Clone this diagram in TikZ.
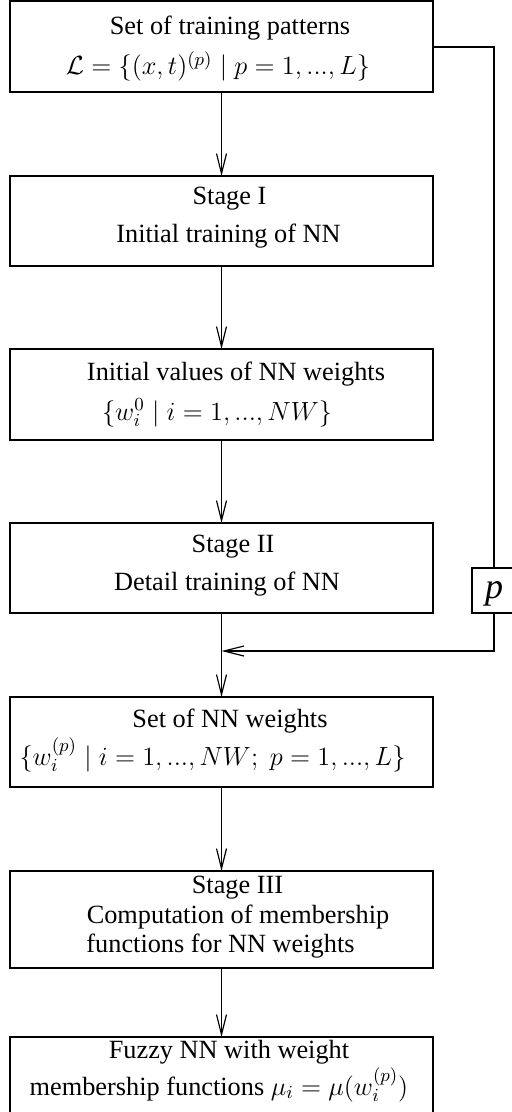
\RequirePackage{fix-cm}
\documentclass[tikz,border=0pt]{standalone}
\usepackage[no-math]{fontspec}
\setmainfont{Liberation Serif}
\usetikzlibrary{arrows.meta}
\begin{document}
\begin{tikzpicture}[x=0.5pt,y=-0.5pt,
  box/.style={draw, line width=0.6pt, inner sep=0pt, outer sep=0pt, minimum width=211.5pt},
  txt/.style={inner sep=0pt, anchor=base, font=\fontsize{13.15}{15}\selectfont},
  conn/.style={line width=0.6pt, -{Straight Barb[length=10pt,width=5pt,line width=0.6pt]}},
  line/.style={line width=0.6pt}]
\useasboundingbox (0,0) rectangle (511,1112);
% boxes
\node[box, minimum height=45.5pt] (b1) at (221.5,46.5) {};
\node[box, minimum height=45pt] (b2) at (221.5,221) {};
\node[box, minimum height=45.5pt] (b3) at (221.5,394.5) {};
\node[box, minimum height=45pt] (b4) at (221.5,568) {};
\node[box, minimum height=45pt] (b5) at (221.5,742) {};
\node[box, minimum height=48.5pt] (b6) at (221.5,919.5) {};
\node[box, minimum height=38pt] (b7) at (221.5,1075) {};
\node[box, minimum width=22pt, minimum height=22.5pt] (pb) at (494,590.5) {};
% texts
\node[txt] at (230,35) {Set of training patterns};
\node[txt] at (218,75) {$\mathcal{L}=\{(x,t)^{(p)}\mid p=1,...,L\}$};
\node[txt] at (229.5,205) {Stage I};
\node[txt] at (228.5,243) {Initial training of NN};
\node[txt] at (236,380) {Initial values of NN weights};
\node[txt] at (217,420) {$\{w_i^0\mid i=1,...,NW\}$};
\node[txt] at (233,552) {Stage II};
\node[txt] at (227,590) {Detail training of NN};
\node[txt] at (230,727) {Set of NN weights};
\node[txt] at (212.5,765) {$\{w_i^{(p)}\mid i=1,...,NW;\; p=1,...,L\}$};
\node[txt] at (237.5,893) {Stage III};
\node[txt] at (238,923) {Computation of membership};
\node[txt] at (220.5,952) {functions for NN weights};
\node[txt] at (229,1058) {Fuzzy NN with weight};
\node[txt] at (219,1095) {membership functions $\mu_i=\mu(w_i^{(p)})$};
\node[inner sep=0pt, anchor=base, font=\fontsize{18}{20}\selectfont\itshape] (plab) at (494,598) {p};
% connectors
\draw[conn] (b1.south) -- (b2.north);
\draw[conn] (b2.south) -- (b3.north);
\draw[conn] (b3.south) -- (b4.north);
\draw[conn] (b4.south) -- (b5.north);
\draw[conn] (b5.south) -- (b6.north);
\draw[conn] (b6.south) -- (b7.north);
\coordinate (j) at (221.5,651);
\draw[line] (b1.east |- 0,47) -- (494,47) -- (pb.north);
\draw[conn] (pb.south) -- (494,651) -- (j);
\end{tikzpicture}
\end{document}
